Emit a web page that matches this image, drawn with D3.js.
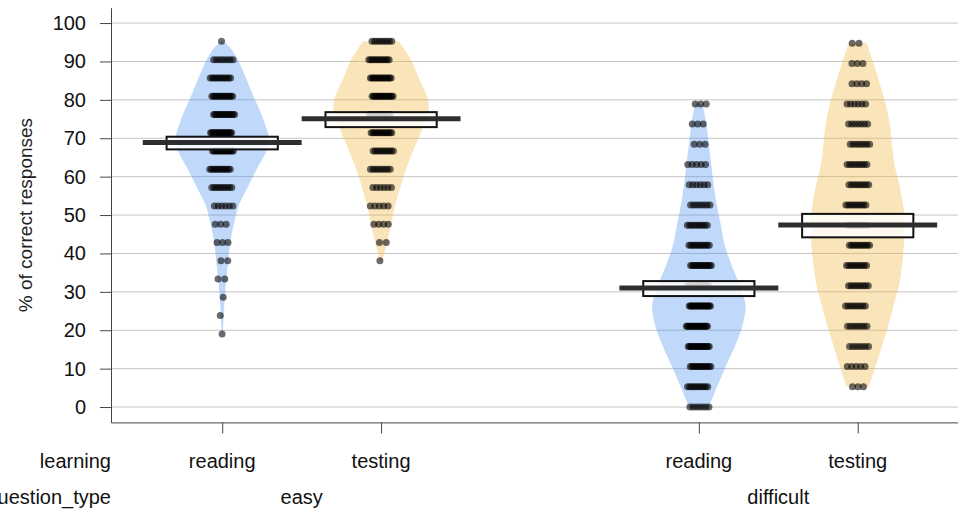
<!DOCTYPE html>
<html>
<head>
<meta charset="utf-8">
<script src="https://cdn.jsdelivr.net/npm/d3@7"></script>
<style>
  html, body { margin: 0; padding: 0; background: #fff; }
  svg { display: block; font-family: "Liberation Sans", Arial, sans-serif; }
</style>
</head>
<body>
<svg id="chart" width="958" height="510"></svg>
<script>
// ---------------- data ----------------
const learning = ["reading", "testing", "reading", "testing"];
const questionType = ["easy", "easy", "difficult", "difficult"];
const questionTypeLabels = ["easy", "difficult"];
const groupPos = [1, 2, 4, 5];
const itemsPerGroup = [21, 21, 19, 19];
const yTicks = [0, 10, 20, 30, 40, 50, 60, 70, 80, 90, 100];

// number of participants with k correct answers (index = k)
const easyReadingCounts = [0,0,0,0,1,1,1,2,2,3,3,6,10,13,16,19,17,15,12,8,1,0];
const easyTestingCounts = [0,0,0,0,0,0,0,0,1,2,4,5,6,9,11,14,17,17,15,12,9,0];
const difficultReadingCounts = [7,11,14,18,20,21,18,15,12,10,8,6,5,3,3,3,0,0,0,0];
const difficultTestingCounts = [0,3,5,7,8,9,9,10,11,11,10,9,9,8,7,6,4,3,2,0];

// bean (density) outline: [value %, relative half width]
const easyReadingBean = [[95.24,0.02],[93.5,0.17],[90.4,0.33],[85.6,0.5],[80.8,0.66],[76,0.83],[71.3,0.96],[69.1,0.99],[66.5,0.92],[62.1,0.73],[57.4,0.54],[52.6,0.35],[47.9,0.25],[43,0.17],[38,0.125],[33,0.083],[28.6,0.052],[23.8,0.031],[19.05,0.01]];
const easyTestingBean = [[95.24,0.375],[90.5,0.625],[85.7,0.79],[81,0.96],[78.4,1.0],[76.2,0.98],[71.4,0.83],[66.7,0.67],[61.9,0.52],[57.1,0.4],[52.4,0.29],[47.6,0.21],[42.8,0.125],[38.1,0.02]];
const difficultReadingBean = [[78.95,0.08],[73.5,0.16],[68.3,0.21],[63.1,0.26],[57.9,0.31],[52.7,0.375],[47.5,0.46],[42.3,0.54],[37.1,0.68],[31.9,0.85],[26.6,0.98],[21.4,0.92],[16.2,0.77],[11,0.58],[5.8,0.4],[0,0.21]];
const difficultTestingBean = [[94.74,0.19],[89.6,0.33],[84.4,0.46],[79.2,0.58],[74,0.67],[68.4,0.72],[63.2,0.77],[58,0.87],[52.8,0.95],[47.6,0.99],[42.4,0.97],[37.2,0.93],[32,0.87],[26.8,0.76],[21.6,0.65],[16.4,0.52],[11.2,0.39],[5.26,0.23]];

const groupMeans = [68.9, 75.1, 31.0, 47.4];
const hdiLower = [67.1, 72.9, 28.9, 44.2];
const hdiUpper = [70.4, 76.8, 32.8, 50.3];

const countsList = [easyReadingCounts, easyTestingCounts, difficultReadingCounts, difficultTestingCounts];
const beanList = [easyReadingBean, easyTestingBean, difficultReadingBean, difficultTestingBean];

// ---------------- style ----------------
const beanColors = ["rgb(80,150,245)", "rgb(240,180,60)", "rgb(80,150,245)", "rgb(240,180,60)"];
const beanOpacity = 0.36;
const beanHalf = 0.3;     // in x units
const avgHalf = 0.5;
const hdiHalf = 0.35;
const jitter = 0.07;
const font = "20px";

// ---------------- scales ----------------
const svg = d3.select("#chart");
const x = d3.scaleLinear().domain([0.3, 5.65]).range([111, 961]);
const y = d3.scaleLinear().domain([-4, 104]).range([422.4, 7.7]);
const xAxisY = 422.4;
const xLeft = 111;

// grid
svg.append("g").selectAll("line").data(yTicks).join("line")
  .attr("x1", xLeft).attr("x2", 958)
  .attr("y1", d => y(d)).attr("y2", d => y(d))
  .attr("stroke", "#c4c4c4").attr("stroke-width", 1);

// beans
const area = d3.area()
  .curve(d3.curveCatmullRom)
  .y(d => y(d[0]));
beanList.forEach((bean, g) => {
  const p = groupPos[g];
  svg.append("path")
    .datum(bean)
    .attr("d", area.x0(d => x(p - d[1] * beanHalf)).x1(d => x(p + d[1] * beanHalf)))
    .attr("fill", beanColors[g])
    .attr("fill-opacity", beanOpacity)
    .attr("stroke", "none");
});

// points (deterministic jitter spread within each value row)
const pts = [];
countsList.forEach((counts, g) => {
  const n = itemsPerGroup[g];
  counts.forEach((c, k) => {
    const shift = (((k * 0.618034 + g * 0.31) % 1) - 0.5) * 0.03;
    for (let i = 0; i < c; i++) {
      const f = ((i + 0.5) / c - 0.5) * 2;
      pts.push({ g, v: k / n * 100, dx: f * jitter * Math.min(1, 0.35 + c * 0.13) + shift });
    }
  });
});
svg.append("g").selectAll("circle").data(pts).join("circle")
  .attr("cx", d => x(groupPos[d.g] + d.dx))
  .attr("cy", d => y(d.v))
  .attr("r", 3.5)
  .attr("fill", "#000")
  .attr("fill-opacity", 0.58);

// HDI boxes
svg.append("g").selectAll("rect").data(groupPos).join("rect")
  .attr("x", (d) => x(d - hdiHalf))
  .attr("width", (d) => x(d + hdiHalf) - x(d - hdiHalf))
  .attr("y", (d, i) => y(hdiUpper[i]))
  .attr("height", (d, i) => y(hdiLower[i]) - y(hdiUpper[i]))
  .attr("fill", "#fff").attr("fill-opacity", 0.82)
  .attr("stroke", "#111").attr("stroke-width", 2);

// mean lines
svg.append("g").selectAll("line").data(groupPos).join("line")
  .attr("x1", d => x(d - avgHalf)).attr("x2", d => x(d + avgHalf))
  .attr("y1", (d, i) => y(groupMeans[i])).attr("y2", (d, i) => y(groupMeans[i]))
  .attr("stroke", "#2e2e2e").attr("stroke-width", 5);

// y axis
const yAxis = svg.append("g")
  .attr("transform", `translate(${xLeft},0)`)
  .call(d3.axisLeft(y).tickValues(yTicks).tickSize(11).tickSizeOuter(0).tickPadding(14));
yAxis.select(".domain").attr("stroke", "#444");
yAxis.selectAll(".tick line").attr("stroke", "#444");
yAxis.selectAll(".tick text").attr("font-size", font).attr("fill", "#111")
  .attr("font-family", "Liberation Sans, Arial, sans-serif");

// x axis
const xAxis = svg.append("g")
  .attr("transform", `translate(0,${xAxisY})`)
  .call(d3.axisBottom(x).tickValues(groupPos).tickSize(11).tickSizeOuter(0).tickFormat(""));
xAxis.select(".domain").attr("stroke", "#444");
xAxis.selectAll(".tick line").attr("stroke", "#444");

// x labels row 1
svg.append("g").selectAll("text").data(learning).join("text")
  .attr("x", (d, i) => x(groupPos[i]))
  .attr("y", 468)
  .attr("text-anchor", "middle")
  .attr("font-size", font).attr("fill", "#111")
  .text(d => d);
svg.append("text").attr("x", xLeft).attr("y", 468).attr("text-anchor", "end")
  .attr("font-size", font).attr("fill", "#111").text("learning");

// x labels row 2
const typeCenters = questionTypeLabels.map(t => d3.mean(groupPos.filter((p, i) => questionType[i] === t)));
svg.append("g").selectAll("text").data(questionTypeLabels).join("text")
  .attr("x", (d, i) => x(typeCenters[i]))
  .attr("y", 504)
  .attr("text-anchor", "middle")
  .attr("font-size", font).attr("fill", "#111")
  .text(d => d);
svg.append("text").attr("x", xLeft).attr("y", 504).attr("text-anchor", "end")
  .attr("font-size", font).attr("fill", "#111").text("question_type");

// y title
svg.append("text")
  .attr("transform", `translate(32,${(y(-4) + y(104)) / 2}) rotate(-90)`)
  .attr("text-anchor", "middle")
  .attr("font-size", "19px").attr("fill", "#222")
  .text("% of correct responses");
</script>
</body>
</html>
